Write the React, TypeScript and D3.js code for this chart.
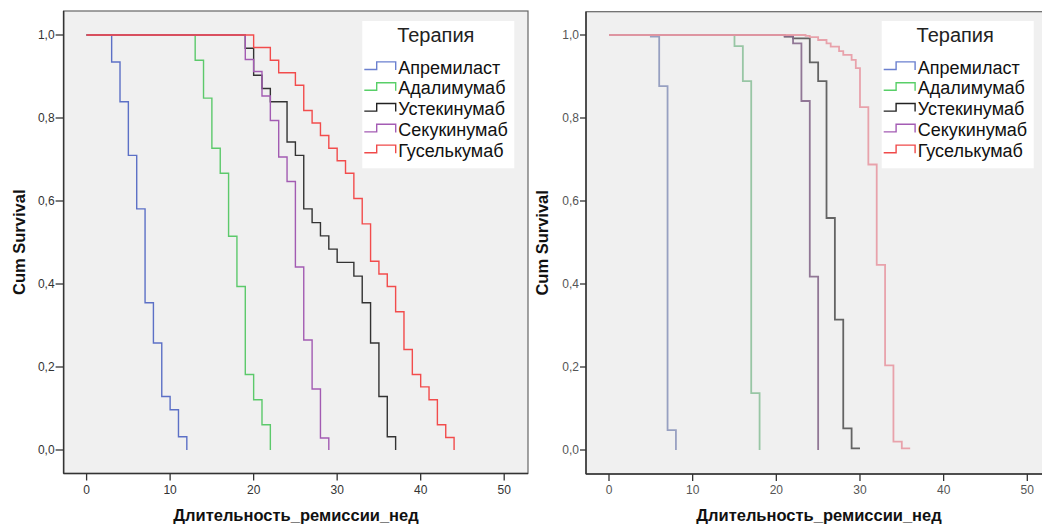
import React from "react";
import * as d3 from "d3";

// ---------- data ----------
const therapies = ["Апремиласт", "Адалимумаб", "Устекинумаб", "Секукинумаб", "Гуселькумаб"];
const xTicks = [0, 10, 20, 30, 40, 50];
const yTicks = [0, 0.2, 0.4, 0.6, 0.8, 1.0];
const xTitle = "Длительность_ремиссии_нед";
const yTitle = "Cum Survival";
const legendTitle = "Терапия";

// left panel (weeks, cumulative survival)
const leftApremilastT = [3, 4, 5, 6, 7, 8, 9, 10, 11, 12];
const leftApremilastV = [0.935, 0.839, 0.71, 0.581, 0.355, 0.258, 0.129, 0.097, 0.032, 0];
const leftAdalimumabT = [13, 14, 15, 16, 17, 18, 19, 20, 21, 22];
const leftAdalimumabV = [0.939, 0.848, 0.727, 0.667, 0.515, 0.394, 0.182, 0.121, 0.061, 0];
const leftUstekinumabT = [19, 20, 21, 22, 24, 25, 26, 27, 28, 29, 30, 32, 33, 34, 35, 36, 37];
const leftUstekinumabV = [0.968, 0.903, 0.871, 0.839, 0.742, 0.71, 0.581, 0.548, 0.516, 0.484, 0.452, 0.419, 0.355, 0.258, 0.129, 0.032, 0];
const leftSecukinumabT = [19, 20, 21, 22, 23, 24, 25, 26, 27, 28, 29];
const leftSecukinumabV = [0.941, 0.912, 0.853, 0.794, 0.706, 0.647, 0.441, 0.265, 0.147, 0.029, 0];
const leftGuselkumabT = [20, 22, 23, 25, 26, 27, 28, 29, 30, 31, 32, 33, 34, 35, 36, 37, 38, 39, 40, 41, 42, 43, 44];
const leftGuselkumabV = [0.97, 0.939, 0.909, 0.879, 0.818, 0.788, 0.758, 0.727, 0.697, 0.667, 0.606, 0.545, 0.455, 0.424, 0.394, 0.333, 0.242, 0.182, 0.152, 0.121, 0.061, 0.03, 0];

// right panel
const rightApremilastT = [5, 6, 7, 8];
const rightApremilastV = [0.996, 0.877, 0.048, 0];
const rightAdalimumabT = [15, 16, 17, 18];
const rightAdalimumabV = [0.973, 0.889, 0.137, 0];
const rightUstekinumabT = [21, 22, 24, 25, 26, 27, 28, 29, 30];
const rightUstekinumabV = [0.996, 0.992, 0.934, 0.889, 0.559, 0.314, 0.052, 0.004, 0.004];
const rightSecukinumabT = [21, 22, 23, 24, 25];
const rightSecukinumabV = [0.997, 0.98, 0.841, 0.418, 0];
const rightGuselkumabT = [23.5, 24, 25, 26, 26.5, 27.5, 28, 29, 29.5, 30, 31, 32, 33, 34, 35, 36];
const rightGuselkumabV = [0.998, 0.995, 0.988, 0.98, 0.972, 0.961, 0.952, 0.94, 0.92, 0.826, 0.688, 0.446, 0.204, 0.02, 0.004, 0.004];

const leftSeries = [
  { t: leftApremilastT, v: leftApremilastV },
  { t: leftAdalimumabT, v: leftAdalimumabV },
  { t: leftUstekinumabT, v: leftUstekinumabV },
  { t: leftSecukinumabT, v: leftSecukinumabV },
  { t: leftGuselkumabT, v: leftGuselkumabV },
];
const rightSeries = [
  { t: rightApremilastT, v: rightApremilastV },
  { t: rightAdalimumabT, v: rightAdalimumabV },
  { t: rightUstekinumabT, v: rightUstekinumabV },
  { t: rightSecukinumabT, v: rightSecukinumabV },
  { t: rightGuselkumabT, v: rightGuselkumabV },
];

const legendColors = ["#6b80cf", "#58cf68", "#222222", "#a45cb4", "#f04a4a"];
const leftColors = ["#5c70c6", "#5cc96b", "#333333", "#a25bb2", "#f24c4c"];
const rightColors = ["#8e98bd", "#8fc29c", "#555555", "#866a8c", "#e89aa4"];

const FONT = "'Liberation Sans', Arial, sans-serif";

type Geo = {
  fx0: number; fx1: number; fy0: number; fy1: number;
  sx0: number; sx1: number; sy0: number; sy1: number;
  tickLen: number; yTitleX: number; xTitleX: number;
  legendDx: number; soft: boolean;
};

function Panel({ geo, series, colors }: { geo: Geo; series: { t: number[]; v: number[] }[]; colors: string[] }) {
  const x = d3.scaleLinear().domain([0, 50]).range([geo.sx0, geo.sx1]);
  const y = d3.scaleLinear().domain([0, 1]).range([geo.sy0, geo.sy1]);
  const line = d3
    .line<[number, number]>()
    .x((d) => x(d[0]))
    .y((d) => y(d[1]))
    .curve(d3.curveStepAfter);
  const tickColor = geo.soft ? "#555" : "#333";
  const L = geo.legendDx;
  const legendBaseline = 73.5;
  const legendStep = 20.8;
  return (
    <g>
      <rect x={geo.fx0} y={geo.fy0} width={geo.fx1 - geo.fx0} height={geo.fy1 - geo.fy0} fill="#f0f0f0" stroke="#666" strokeWidth={1.2} />
      <line x1={geo.fx0} x2={geo.fx0} y1={geo.fy0} y2={geo.fy1} stroke="#333" strokeWidth={1.5} />
      <line x1={geo.fx0} x2={geo.fx1} y1={geo.fy1} y2={geo.fy1} stroke="#333" strokeWidth={1.5} />
      {yTicks.map((t) => (
        <g key={"y" + t}>
          <line x1={geo.fx0 - geo.tickLen} x2={geo.fx0} y1={y(t)} y2={y(t)} stroke="#333" strokeWidth={1.3} />
          <text x={geo.fx0 - geo.tickLen - 1} y={y(t) + 4} textAnchor="end" fontFamily={FONT} fontSize={12} fill={tickColor}>
            {d3.format(".1f")(t).replace(".", ",")}
          </text>
        </g>
      ))}
      {xTicks.map((t) => (
        <g key={"x" + t}>
          <line x1={x(t)} x2={x(t)} y1={geo.fy1} y2={geo.fy1 + 7} stroke="#333" strokeWidth={1.3} />
          <text x={x(t)} y={494} textAnchor="middle" fontFamily={FONT} fontSize={12} fill={tickColor}>
            {t}
          </text>
        </g>
      ))}
      <g filter={geo.soft ? "url(#soft)" : undefined}>
        {series.map((s, i) => {
          const pts: [number, number][] = [[0, 1]];
          s.t.forEach((t, j) => pts.push([t, s.v[j]]));
          return (
            <path key={i} d={line(pts) || ""} fill="none" stroke={colors[i]} strokeWidth={geo.soft ? 1.8 : 1.4} strokeOpacity={geo.soft ? 0.9 : 1} />
          );
        })}
      </g>
      {/* legend */}
      <rect x={362.3 + L} y={21} width={152} height={147.3} fill="#ffffff" />
      <text x={435.8 + L} y={41.7} textAnchor="middle" fontFamily={FONT} fontSize={20} fill="#222">
        {legendTitle}
      </text>
      {therapies.map((name, i) => {
        const b = legendBaseline + i * legendStep;
        const x0 = 364.3 + L;
        return (
          <g key={name}>
            <path d={`M${x0},${b - 4} H${x0 + 12.4} V${b - 11.6} H${x0 + 31.4} V${b - 3.5}`} fill="none" stroke={legendColors[i]} strokeWidth={1.4} />
            <text x={398.3 + L} y={b} fontFamily={FONT} fontSize={18} fill="#111">
              {name}
            </text>
          </g>
        );
      })}
      <text
        transform={`translate(${geo.yTitleX},${(geo.fy0 + geo.fy1) / 2}) rotate(-90)`}
        textAnchor="middle"
        fontFamily={FONT}
        fontWeight="bold"
        fontSize={16.5}
        fill="#111"
      >
        {yTitle}
      </text>
      <text x={geo.xTitleX} y={521} textAnchor="middle" fontFamily={FONT} fontWeight="bold" fontSize={16.5} fill="#111">
        {xTitle}
      </text>
    </g>
  );
}

const leftGeo: Geo = {
  fx0: 63.6, fx1: 528, fy0: 11, fy1: 473.5,
  sx0: 86.6, sx1: 504.2, sy0: 450, sy1: 35,
  tickLen: 8, yTitleX: 24.5, xTitleX: 296, legendDx: 0, soft: false,
};
const rightGeo: Geo = {
  fx0: 586, fx1: 1052, fy0: 11.7, fy1: 474,
  sx0: 609, sx1: 1027.3, sy0: 450, sy1: 35,
  tickLen: 6, yTitleX: 548, xTitleX: 819, legendDx: 519.4, soft: true,
};

export default function App() {
  return (
    <svg width={1042} height={526} style={{ position: "absolute", left: 0, top: 0, background: "#fff" }}>
      <defs>
        <filter id="soft" x="-5%" y="-5%" width="110%" height="110%">
          <feGaussianBlur stdDeviation={0.45} />
        </filter>
      </defs>
      <rect x={0} y={0} width={1042} height={526} fill="#fff" />
      <Panel geo={leftGeo} series={leftSeries} colors={leftColors} />
      <Panel geo={rightGeo} series={rightSeries} colors={rightColors} />
    </svg>
  );
}
